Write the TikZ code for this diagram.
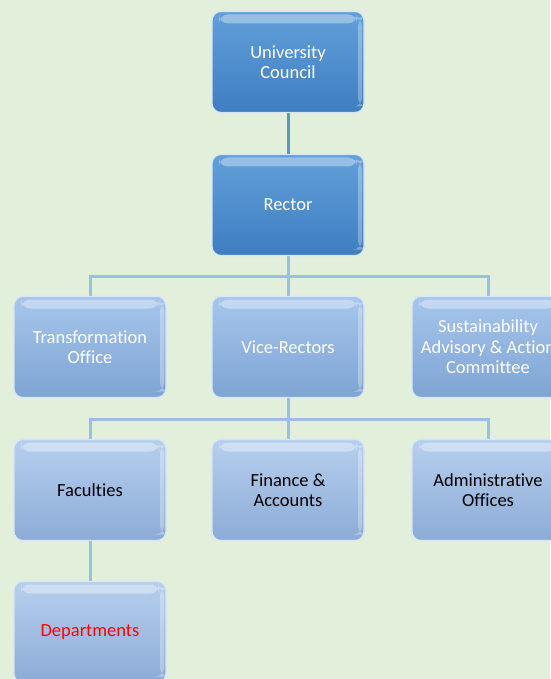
\documentclass[tikz,border=0pt]{standalone}
\usepackage{fontspec}
\setmainfont[Ligatures=NoCommon]{Carlito}
\definecolor{bgreen}{HTML}{E2EFDA}
\definecolor{topA}{HTML}{62A0DA}
\definecolor{botA}{HTML}{3E7DC0}
\definecolor{topB}{HTML}{A6C6EC}
\definecolor{botB}{HTML}{7EA4D3}
\definecolor{topC}{HTML}{B7CFEE}
\definecolor{botC}{HTML}{8CABD6}
\definecolor{lineA}{HTML}{5B93CF}
\definecolor{lineB}{HTML}{9DBDE2}
\begin{document}
\begin{tikzpicture}[x=1pt,y=-1pt,
    box/.style={rounded corners=9pt,minimum width=152pt,minimum height=101pt,
      align=center,draw=white!55!topB,line width=1.2pt,
      font=\fontsize{18.5}{20.5}\selectfont,
      path picture={\fill[white,opacity=.35]
        ([xshift=7pt,yshift=-3pt]path picture bounding box.north west) rectangle
        ([xshift=-7pt,yshift=-12pt]path picture bounding box.north east);
        \fill[white,opacity=.3]
        ([xshift=-6pt,yshift=-6pt]path picture bounding box.north east) rectangle
        ([xshift=-2pt,yshift=6pt]path picture bounding box.south east);}},
    tierA/.style={box,top color=topA,bottom color=botA,text=white},
    tierB/.style={box,top color=topB,bottom color=botB,text=white},
    tierC/.style={box,top color=topC,bottom color=botC,text=black},
    link/.style={line width=3pt,lineB}]
    \def\xl{90}
    \def\xm{288}
    \def\xr{488}
    \fill[bgreen] (0,0) rectangle (550,679);
    \useasboundingbox (0,0) rectangle (550,679);

    % links first, boxes on top
    \coordinate (busA) at (\xm,276);
    \coordinate (busB) at (\xm,419);
    \draw[link,lineA] (\xm,62) -- (\xm,205);
    \draw[link] (\xm,205) -- (busA) -| (\xl,347);
    \draw[link] (busA) -| (\xr,347);
    \draw[link] (\xm,205) -- (\xm,490);
    \draw[link] (busB) -| (\xl,632);
    \draw[link] (busB) -| (\xr,490);

    \node[tierA] (council) at (\xm,62) {University\\Council};
    \node[tierA] (rector) at (\xm,205) {Rector};

    \node[tierB] (trans) at (\xl,347) {Transformation\\Office};
    \node[tierB] (vice) at (\xm,347) {Vice-Rectors};
    \node[tierB] (sust) at (\xr,347) {Sustainability\\Advisory \& Action\\Committee};

    \node[tierC] (fac) at (\xl,490) {Faculties};
    \node[tierC] (fin) at (\xm,490) {Finance \&\\Accounts};
    \node[tierC] (admin) at (\xr,490) {Administrative\\Offices};
    \node[tierC,text=red] (dept) at (\xl,632) {Departments};
\end{tikzpicture}
\end{document}
